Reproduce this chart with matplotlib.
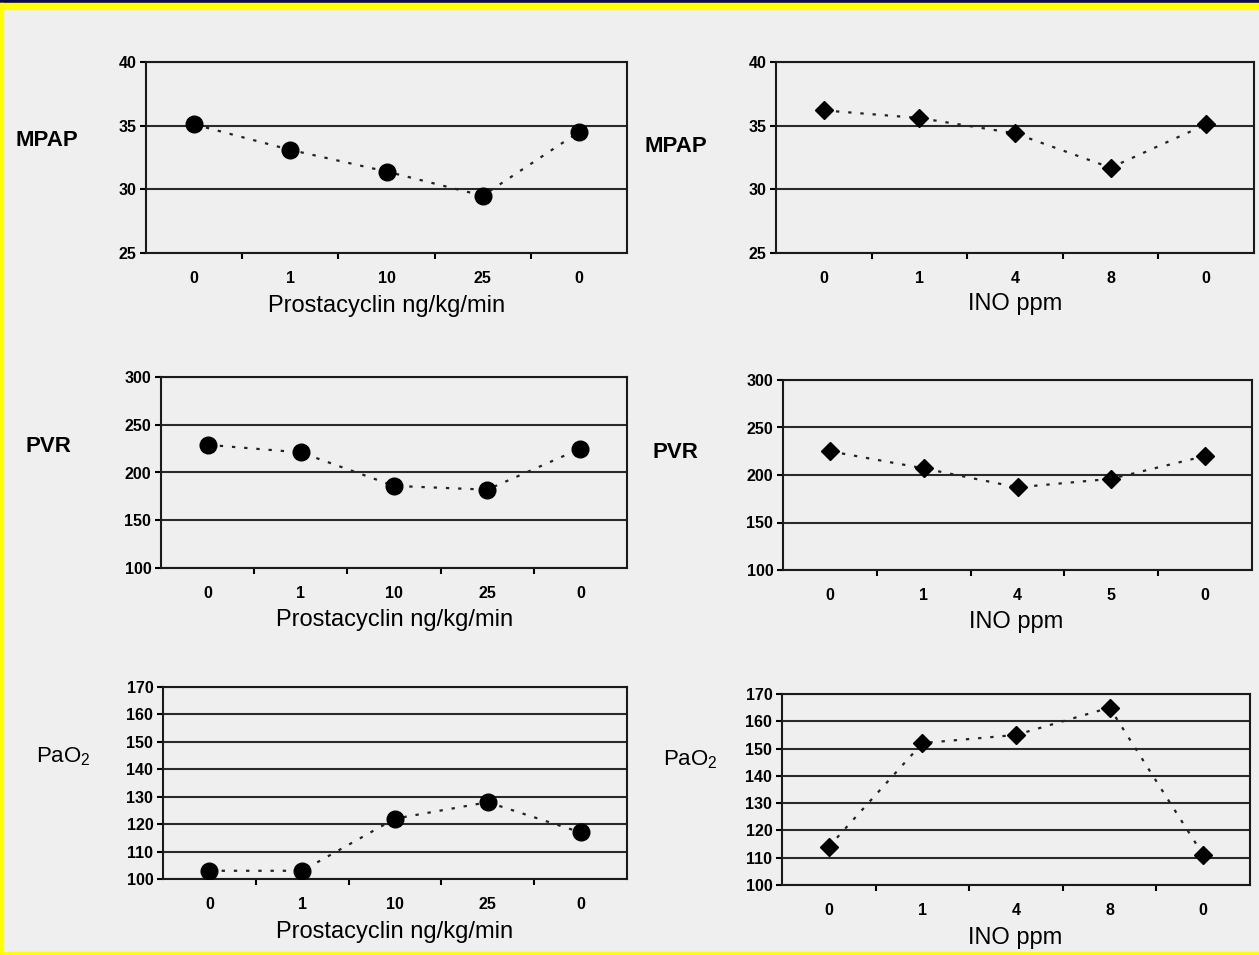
import matplotlib
matplotlib.use("Agg")
import matplotlib.pyplot as plt
from matplotlib.patches import Rectangle
import numpy as np

# ---- data -------------------------------------------------------------
prost_doses = ["0", "1", "10", "25", "0"]
ino_doses_mpap = ["0", "1", "4", "8", "0"]
ino_doses_pvr = ["0", "1", "4", "5", "0"]
ino_doses_pao2 = ["0", "1", "4", "8", "0"]

mpap_prost = [35.1, 33.1, 31.4, 29.5, 34.5]
mpap_ino = [36.2, 35.6, 34.4, 31.7, 35.1]
pvr_prost = [229, 221, 186, 182, 225]
pvr_ino = [225, 207, 187, 196, 220]
pao2_prost = [103, 103, 122, 128, 117]
pao2_ino = [114, 152, 155, 165, 111]

mpap_ticks = [25, 30, 35, 40]
pvr_ticks = [100, 150, 200, 250, 300]
pao2_ticks = [100, 110, 120, 130, 140, 150, 160, 170]

prost_label = "Prostacyclin ng/kg/min"
ino_label = "INO ppm"

# ---- figure -----------------------------------------------------------
W, H = 1259, 955
BG = "#efefef"
plt.rcParams["font.family"] = ["Liberation Sans", "DejaVu Sans"]
plt.rcParams["mathtext.fontset"] = "custom"
plt.rcParams["mathtext.rm"] = "Liberation Sans"
plt.rcParams["mathtext.it"] = "Liberation Sans:italic"
plt.rcParams["mathtext.bf"] = "Liberation Sans:bold"

fig = plt.figure(figsize=(W / 100, H / 100), dpi=100, facecolor=BG)

# frame: dark strip on top, yellow border
fig.patches.append(Rectangle((0, 1 - 3 / H), 1, 3 / H, transform=fig.transFigure,
                             color="#0a0a50", zorder=-1))
fig.patches.append(Rectangle((0, 1 - 9 / H), 1, 6 / H, transform=fig.transFigure,
                             color="#ffff00", zorder=-1))
fig.patches.append(Rectangle((0, 0), 3 / W, 1 - 3 / H, transform=fig.transFigure,
                             color="#ffff00", zorder=-1))
fig.patches.append(Rectangle((0, 0), 1, 3 / H, transform=fig.transFigure,
                             color="#ffff00", zorder=-1))


def px_axes(x0, y0, x1, y1):
    return fig.add_axes([x0 / W, 1 - y1 / H, (x1 - x0) / W, (y1 - y0) / H])


panels = [
    # box (px), values, categories, yticks, ylabel, ylabel pos, bold, xlabel, xlabel pos, marker
    ((146, 62, 627, 253), mpap_prost, prost_doses, mpap_ticks, "MPAP", (47, 140), True,
     prost_label, (387, 306), "o"),
    ((776, 62, 1254, 253), mpap_ino, ino_doses_mpap, mpap_ticks, "MPAP", (676, 147), True,
     ino_label, (1015, 304), "D"),
    ((161, 377, 627, 568), pvr_prost, prost_doses, pvr_ticks, "PVR", (48, 447), True,
     prost_label, (395, 620), "o"),
    ((783, 380, 1252, 570), pvr_ino, ino_doses_pvr, pvr_ticks, "PVR", (675, 452), True,
     ino_label, (1016, 622), "D"),
    ((163, 687, 627, 879), pao2_prost, prost_doses, pao2_ticks, "PaO$_2$", (63, 757), False,
     prost_label, (395, 932), "o"),
    ((782, 694, 1250, 885), pao2_ino, ino_doses_pao2, pao2_ticks, "PaO$_2$", (690, 760), False,
     ino_label, (1015, 938), "D"),
]

for box, vals, cats, yt, ylab, ylpos, ybold, xlab, xlpos, mk in panels:
    ax = px_axes(*box)
    ax.set_facecolor(BG)
    x = np.arange(len(cats))
    for v in yt:
        ax.axhline(v, color="#2a2a2a", lw=1.5, zorder=1)
    if mk == "o":
        ax.plot(x, vals, linestyle=(0, (1.5, 4)), color="#222222", lw=1.6,
                marker="o", markersize=12, markerfacecolor="black",
                markeredgecolor="black", zorder=3)
    else:
        ax.plot(x, vals, linestyle=(0, (1.5, 4)), color="#222222", lw=1.6,
                marker="D", markersize=9, markerfacecolor="black",
                markeredgecolor="black", zorder=3)
    ax.set_xlim(-0.5, len(cats) - 0.5)
    ax.set_ylim(yt[0], yt[-1])
    ax.set_yticks(yt)
    ax.set_yticklabels([str(v) for v in yt], fontsize=11.5, fontweight="bold")
    ax.set_xticks(x)
    ax.set_xticklabels(cats, fontsize=11.5, fontweight="bold")
    ax.set_xticks(np.arange(0.5, len(cats) - 1, 1.0), minor=True)
    ax.tick_params(axis="x", which="major", length=0, pad=13)
    ax.tick_params(axis="x", which="minor", length=4, width=1.5, direction="out")
    ax.tick_params(axis="y", which="major", length=4, width=1.5, direction="out", pad=3)
    for s in ax.spines.values():
        s.set_color("#1a1a1a")
        s.set_linewidth(1.5)
    fig.text(ylpos[0] / W, 1 - ylpos[1] / H, ylab, fontsize=16,
             fontweight="bold" if ybold else "normal", ha="center", va="center")
    fig.text(xlpos[0] / W, 1 - xlpos[1] / H, xlab, fontsize=17,
             ha="center", va="center")

fig.savefig("out.png", dpi=100, facecolor=BG)
